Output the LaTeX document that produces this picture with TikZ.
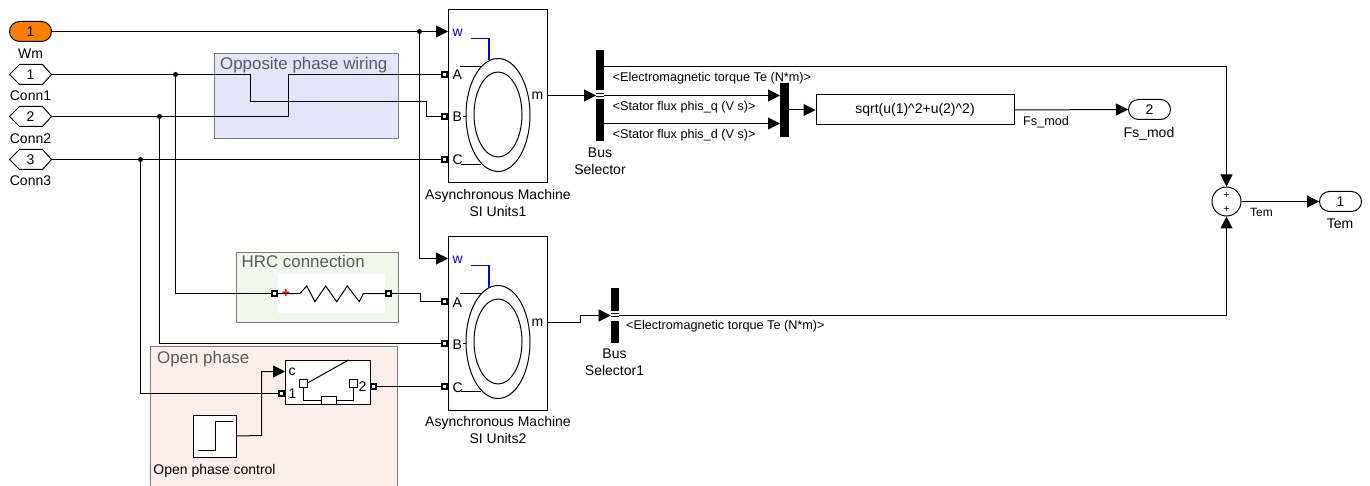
\documentclass[tikz,border=0pt]{standalone}
\usepackage{fontspec}
\setmainfont{Liberation Sans}
\usetikzlibrary{arrows.meta,shapes.misc,calc}
\definecolor{portor}{HTML}{FF8000}
\definecolor{boxblue}{HTML}{E4E4FB}
\definecolor{boxgreen}{HTML}{F2F7EC}
\definecolor{boxred}{HTML}{FCEEE9}
\definecolor{frameg}{HTML}{7A7A7A}
\definecolor{titleg}{HTML}{5A5A5A}
\definecolor{sigblue}{HTML}{0000D0}
\tikzset{
  wire/.style={line width=1pt,draw=black,line join=miter},
  sig/.style={wire,-{Triangle[length=12pt,width=12pt]}},
  area/.style={draw=frameg,line width=1pt,anchor=north west,inner sep=0},
  areatitle/.style={anchor=north west,inner sep=0,text=titleg,font=\fontsize{16.9}{18}\selectfont,text height=12.5pt,text depth=3pt},
  blockbox/.style={draw=black,fill=white,line width=1pt,anchor=north west,inner sep=0},
  lbl/.style={inner sep=0,font=\fontsize{14}{17}\selectfont,align=center,anchor=north},
  smalllbl/.style={inner sep=0,font=\fontsize{12.65}{14}\selectfont,anchor=base west},
  portlbl/.style={inner sep=0,font=\fontsize{14}{16}\selectfont,text height=10pt,text depth=0pt},
  numlbl/.style={inner sep=0,font=\fontsize{14}{16}\selectfont},
  pill/.style={rounded rectangle,draw=black,line width=1pt,minimum width=42pt,minimum height=20pt,inner sep=0,font=\fontsize{14}{16}\selectfont},
  conn/.style={draw=black,line width=1.7pt,fill=white,minimum size=5.5pt,inner sep=0,rectangle},
  dotj/.style={circle,fill=black,minimum size=5pt,inner sep=0},
  thinline/.style={line width=1pt,draw=black},
  busbar/.style={fill=black,draw=none,anchor=north west,inner sep=0},
}
\newcommand{\hexport}[3]{%
  \draw[line width=1pt,draw=black,fill=white] (9.5,#2) -- (19.5,#2-10) -- (42.5,#2-10) -- (51.5,#2) -- (42.5,#2+10) -- (19.5,#2+10) -- cycle;
  \node[numlbl] (#1) at (30.5,#2) {#3};
  \coordinate (#1out) at (51.5,#2);
}
\newcommand{\machine}[2]{%
  \begin{scope}[yshift=#2]
    \node[blockbox,minimum width=99pt,minimum height=173pt] (#1) at (447.5,9.5) {};
    \draw[thinline] (498,115) ellipse [x radius=32,y radius=56.5];
    \draw[thinline] (498,114.5) ellipse [x radius=24,y radius=42.5];
    \draw[thinline] (460,66.5) -- (481,66.5);
    \draw[thinline] (461,164.5) -- (481,164.5);
    \draw[thinline] (463,116.5) -- (466,116.5);
    \draw[line width=1.5pt,draw=sigblue] (471,38.5) -- (489,38.5) -- (489,60.5);
    \node[portlbl,text=sigblue,anchor=west,text height=7.5pt] (#1w) at (452.5,33) {w};
    \node[portlbl,anchor=west] (#1a) at (452.5,75) {A};
    \node[portlbl,anchor=west] (#1b) at (452.5,117) {B};
    \node[portlbl,anchor=west] (#1c) at (452.5,160) {C};
    \node[portlbl,anchor=center,text height=7.5pt] (#1m) at (537.5,96) {m};
    \node[conn] (#1pa) at (444.5,74.5) {};
    \node[conn] (#1pb) at (444.5,116.5) {};
    \node[conn] (#1pc) at (444.5,159.5) {};
    \coordinate (#1inw) at (448,31.5);
    \coordinate (#1outm) at (547,95.5);
  \end{scope}
}
\begin{document}
\begin{tikzpicture}[x=1pt,y=-1pt]
\useasboundingbox (0,0) rectangle (1370,486);
\fill[white] (0,0) rectangle (1370,486);

% shaded areas
\node[area,fill=boxblue,minimum width=184pt,minimum height=85pt] (opp) at (213.5,53.5) {};
\node[areatitle] (opptitle) at (220,57) {Opposite phase wiring};
\node[area,fill=boxgreen,minimum width=162pt,minimum height=69pt] (hrc) at (235.5,252.5) {};
\node[areatitle] (hrctitle) at (241.5,255) {HRC connection};
\fill[white] (278,274) rectangle (385,313);
\path[fill=boxred] (150.5,346.5) rectangle (397.5,487);
\draw[frameg,line width=1pt] (150.5,487) -- (150.5,346.5) -- (397.5,346.5) -- (397.5,487);
\node[areatitle] (opentitle) at (157,350.5) {Open phase};

% inports
\node[pill,fill=portor] (wm) at (30.5,31.5) {1};
\node[lbl] (wmlbl) at (30.5,49) {Wm};
\hexport{conna}{74.5}{1}
\node[lbl] (connalbl) at (30.5,91) {Conn1};
\hexport{connb}{116.5}{2}
\node[lbl] (connblbl) at (30.5,134) {Conn2};
\hexport{connc}{159.5}{3}
\node[lbl] (conncbl) at (30.5,176) {Conn3};

% machines
\machine{ma}{0pt}
\machine{mb}{-227pt}
\node[lbl] (malbl) at (498,189) {Asynchronous Machine\\SI Units1};
\node[lbl] (mblbl) at (498,416) {Asynchronous Machine\\SI Units2};

% resistor
\node[conn] (rl) at (274.5,293.5) {};
\node[conn] (rr) at (388.5,293.5) {};
\draw[thinline] (rl) -- (300,293.5) -- (306.7,286) -- (315,301.7) -- (325.7,286) -- (336.7,301.7) -- (347.3,286) -- (359.3,301.7) -- (363.3,293.5) -- (rr);
\node[inner sep=0,text=red,font=\fontsize{14}{14}\bfseries] (rplus) at (286,293.5) {+};

% switch
\node[blockbox,minimum width=85pt,minimum height=44pt] (sw) at (284.5,359.5) {};
\node[blockbox,minimum width=8pt,minimum height=8pt] (swa) at (298.5,378.5) {};
\node[blockbox,minimum width=8pt,minimum height=8pt] (swb) at (348.5,378.5) {};
\node[blockbox,minimum width=15pt,minimum height=8pt] (swr) at (320.5,395.5) {};
\coordinate (swtip) at (348.5,360);
\draw[thinline] (swa.east) -- (swtip);
\draw[thinline] (swa.south) |- (swr.west);
\draw[thinline] (swr.east) -| (swb.south);
\node[portlbl,anchor=center,text height=7.5pt] (swc) at (292,372) {c};
\node[portlbl,anchor=center] (sw1) at (292.5,393) {1};
\node[portlbl,anchor=center] (sw2) at (362.5,386) {2};
\node[conn] (swin) at (281.5,393.5) {};
\node[conn] (swout) at (373.5,386.5) {};
\coordinate (swcin) at (285,371.5);

% step
\node[blockbox,minimum width=43pt,minimum height=42pt] (stepb) at (192.5,414.5) {};
\draw[wire] (198,450.5) -- (215.5,450.5) -- (215.5,421.5) -- (232.5,421.5);
\node[lbl] (steplbl) at (214.5,464) {Open phase control};

% bus selectors
\node[busbar,minimum width=8pt,minimum height=91pt] (bs) at (596,50) {};
\fill[white] (596,90.5) rectangle (604,99.5);
\draw[black,line width=0.8pt] (596,93.5) -- (604,93.5) (596,96.5) -- (604,96.5);
\node[lbl] (bslbl) at (600,148) {Bus\\Selector};
\node[busbar,minimum width=8.5pt,minimum height=55pt] (bt) at (610.7,288) {};
\fill[white] (610.7,310.5) rectangle (619.2,320.5);
\draw[black,line width=0.8pt] (610.7,313.5) -- (619.2,313.5) (610.7,316.5) -- (619.2,316.5);
\node[lbl] (btlbl) at (614.5,349) {Bus\\Selector1};
\node[busbar,minimum width=9pt,minimum height=54pt] (mux) at (780,83) {};

% fcn, outports, sum
\node[blockbox,minimum width=198pt,minimum height=30pt,font=\fontsize{14}{16}\selectfont] (fcn) at (815.5,94.5) {sqrt(u(1)\string^2+u(2)\string^2)};
\node[pill] (fs) at (1149.5,109.5) {2};
\node[lbl] (fslbl) at (1149,127) {Fs\_mod};
\node[pill] (tem) at (1340.5,201.5) {1};
\node[lbl] (temlbl) at (1340,219) {Tem};
\node[circle,draw=black,fill=white,line width=1pt,minimum size=29pt,inner sep=0] (sum) at (1226.5,201.5) {};
\node[inner sep=0,font=\fontsize{10.5}{11}\selectfont] (sump) at (1226.5,195) {+};
\node[inner sep=0,font=\fontsize{10.5}{11}\selectfont] (sumq) at (1226.5,209) {+};

% junctions
\node[dotj] (jw) at (419.5,31.5) {};
\node[dotj] (ja) at (175.5,74.5) {};
\node[dotj] (jb) at (159.5,116.5) {};
\node[dotj] (jc) at (140.5,159.5) {};

% wires
\draw[sig] (wm.east) -- (mainw);
\draw[sig] (jw) |- (mbinw);
\draw[wire] (connaout) -- (250.5,74.5) -- (250.5,101.5) -- (426.5,101.5) -- (426.5,116.5) -- (mapb);
\draw[wire] (connbout) -- (288.5,116.5) -- (288.5,74.5) -- (mapa);
\draw[wire] (conncout) -- (mapc);
\draw[wire] (ja) |- (rl);
\draw[wire] (rr.east) -- (420.5,293.5) -- (420.5,301.5) -- (mbpa);
\draw[wire] (jb) |- (mbpb);
\draw[wire] (jc) |- (swin);
\draw[wire] (swout) -- (mbpc);
\draw[sig] (stepb.east) -- (261.5,435.5) -- (261.5,371.5) -- (swcin);
\draw[sig] (maoutm) -- (bs.west |- maoutm);
\coordinate (bsa) at (604,66.5);
\coordinate (bsb) at (604,95.5);
\coordinate (bsc) at (604,123.5);
\draw[sig] (bsa) -| (sum.north);
\draw[sig] (bsb) -- (mux.west |- bsb);
\draw[sig] (bsc) -- (mux.west |- bsc);
\draw[sig] (mux.east |- fcn.west) -- (fcn.west);
\draw[sig] (fcn.east) -- (fs.west);
\draw[sig] (sum.east) -- (tem.west);
\coordinate (btin) at (610.7,315.5);
\draw[sig] (mboutm) -- (580.5,322.5) -- (580.5,315.5) -- (btin);
\coordinate (bta) at (619.2,315.5);
\draw[sig] (bta) -| (sum.south);

% signal labels
\node[smalllbl] (la) at (612.5,81.5) {<Electromagnetic torque Te (N*m)>};
\node[smalllbl] (lb) at (612.5,111) {<Stator flux phis\_q (V s)>};
\node[smalllbl] (lc) at (612.5,139) {<Stator flux phis\_d (V s)>};
\node[smalllbl] (ld) at (626,329.5) {<Electromagnetic torque Te (N*m)>};
\node[smalllbl] (le) at (1023,125.5) {Fs\_mod};
\node[smalllbl,font=\fontsize{12}{14}\selectfont] (lf) at (1250,217) {Tem};
\end{tikzpicture}
\end{document}
